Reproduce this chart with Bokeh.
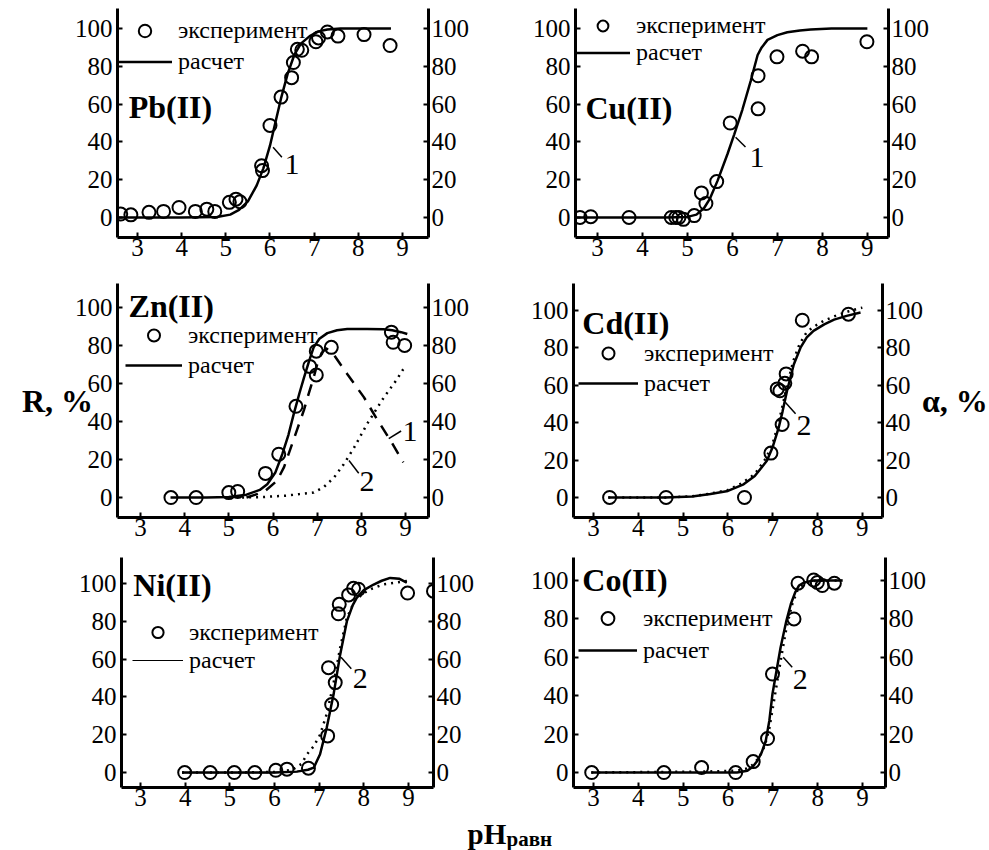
from bokeh.plotting import figure
from bokeh.models import LinearAxis, FixedTicker, Range1d, Legend, LegendItem
from bokeh.layouts import column, row
from bokeh.embed import file_html
from bokeh.resources import INLINE
from bokeh.core.properties import value

SERIF = "Liberation Serif"
SERIF_CSS = '"Liberation Serif", "Times New Roman", serif'

x_ticks = [3, 4, 5, 6, 7, 8, 9]
y_ticks = [0, 20, 40, 60, 80, 100]
legend_exp = "эксперимент"
legend_calc = "расчет"

# ---------------- Pb(II) ----------------
pb_exp_x = [2.62, 2.85, 3.26, 3.59, 3.94, 4.31, 4.57, 4.75, 5.08, 5.23, 5.32, 5.81, 5.83, 6.0, 6.25,
            6.49, 6.53, 6.62, 6.72, 7.04, 7.1, 7.3, 7.54, 8.13, 8.72]
pb_exp_y = [1.8, 1.4, 2.7, 3.2, 5.3, 3.2, 4.4, 3.2, 8.0, 9.7, 8.3, 27.4, 24.8, 48.7, 63.7,
            74.0, 82.0, 89.0, 88.5, 93.0, 95.0, 98.2, 96.0, 96.8, 91.0]
pb_calc_x = [2.55, 4.0, 4.8, 5.1, 5.3, 5.5, 5.7, 5.85, 6.0, 6.1, 6.25, 6.4, 6.55, 6.7, 6.9, 7.1, 7.3, 7.6, 8.0, 8.74]
pb_calc_y = [0, 0, 0.3, 1.5, 4, 8.5, 17, 26, 38, 48, 63, 76, 86, 92, 96, 98.5, 99.5, 100, 100, 100]

# ---------------- Cu(II) ----------------
cu_exp_x = [2.61, 2.85, 3.70, 4.64, 4.74, 4.81, 4.91, 5.15, 5.31, 5.41, 5.65, 5.95, 6.57, 6.57, 6.99, 7.56, 7.76, 8.99]
cu_exp_y = [0, 0.4, 0, 0, 0, 0, -1, 1, 13, 7.4, 19, 50, 57.5, 75, 85, 88, 85, 93]
cu_calc_x = [2.51, 4.5, 5.0, 5.2, 5.37, 5.5, 5.67, 5.89, 6.04, 6.22, 6.41, 6.56, 6.65, 6.78, 7.0, 7.22, 7.5, 7.74, 8.2, 9.0]
cu_calc_y = [0, 0, 0.3, 1.5, 5, 10, 19.5, 33.6, 44, 57, 72.6, 86, 90, 94, 96.5, 98, 99, 99.5, 100, 100]

# ---------------- Zn(II) ----------------
zn_exp_x = [3.69, 4.26, 5.0, 5.2, 5.83, 6.13, 6.52, 6.83, 6.98, 6.98, 7.32, 8.68, 8.72, 8.98]
zn_exp_y = [0, 0, 2.6, 3.2, 12.7, 22.8, 48, 69, 64.5, 77, 79, 87, 81.7, 80]
zn_calc_x = [3.68, 4.5, 5.0, 5.4, 5.7, 5.87, 6.05, 6.21, 6.35, 6.47, 6.6, 6.7, 6.82, 6.92, 7.05, 7.23,
             7.45, 7.68, 8.13, 8.5, 8.7, 8.9, 9.04]
zn_calc_y = [0, 0, 0.3, 1.5, 4, 7, 13, 22.8, 33, 44, 55, 63, 72, 79, 83.5, 86.5,
             88, 88.7, 88.7, 88.5, 88, 87, 86]
zn_c1_x = [5.4, 5.8, 6.09, 6.25, 6.4, 6.55, 6.7, 6.8, 6.9, 7.0, 7.1, 7.2, 7.35, 7.68, 8.06, 8.36, 8.66, 8.95]
zn_c1_y = [0, 3, 8.8, 16, 26, 36, 46, 54, 61.5, 70, 76, 78.5, 76, 65, 52.7, 41, 30, 18.5]
zn_c2_x = [5.3, 5.8, 6.3, 6.6, 6.92, 7.15, 7.38, 7.6, 7.83, 8.13, 8.51, 8.8, 9.0]
zn_c2_y = [0, 0.3, 1, 1.8, 2.6, 5.5, 10.5, 17.5, 26, 38.7, 52.7, 62, 69.4]

# ---------------- Cd(II) ----------------
cd_exp_x = [3.36, 4.62, 6.37, 6.96, 7.21, 7.1, 7.16, 7.27, 7.3, 7.66, 8.69]
cd_exp_y = [0, 0, 0, 23.7, 39, 58, 57, 61, 66, 94.7, 97.9]
cd_calc_x = [3.33, 4.6, 5.2, 5.61, 6.0, 6.35, 6.6, 6.87, 7.0, 7.13, 7.22, 7.32, 7.47, 7.62, 7.76, 7.91,
             8.15, 8.37, 8.65, 8.96]
cd_calc_y = [0, 0, 0.5, 1.8, 3.5, 7, 11.5, 19.6, 27, 37, 46, 57, 71, 80, 85.5, 89,
             92.5, 95, 97, 98.8]
cd_c2_x = [3.33, 4.6, 5.2, 5.6, 6.0, 6.3, 6.6, 6.85, 7.0, 7.12, 7.22, 7.32, 7.46, 7.6, 7.75, 7.9,
           8.15, 8.4, 8.7, 9.0]
cd_c2_y = [0, 0, 0.6, 2, 4, 7.5, 12.5, 21, 29, 39, 49, 60, 73, 82, 88, 91,
           94.5, 97, 99.5, 101.4]

# ---------------- Ni(II) ----------------
ni_exp_x = [3.99, 4.56, 5.1, 5.56, 6.03, 6.28, 6.76, 7.19, 7.28, 7.21, 7.36, 7.43, 7.45, 7.66, 7.77, 7.88, 8.98, 9.56]
ni_exp_y = [0, 0, 0, 0, 1.2, 1.8, 2.3, 19.4, 36, 55.5, 47.6, 84, 89, 94, 97.5, 97, 95, 96]
ni_calc_x = [3.93, 5.0, 6.0, 6.5, 6.75, 6.88, 7.02, 7.17, 7.32, 7.47, 7.62, 7.75, 7.84, 8.0, 8.22, 8.4,
             8.59, 8.8, 8.96]
ni_calc_y = [0, 0, 0, 0.5, 1.5, 2.6, 9.7, 23.8, 41, 62.4, 80, 88.5, 92.4, 96.5, 99.5, 101.5,
             103, 102.5, 100.5]
ni_c2_x = [3.93, 5.0, 6.0, 6.4, 6.6, 6.73, 6.88, 7.02, 7.17, 7.32, 7.47, 7.62, 7.8, 8.0, 8.2, 8.44, 8.7, 9.0]
ni_c2_y = [0, 0, 0.3, 1.5, 4.5, 9.7, 14, 20, 31, 47, 66, 82, 91, 95, 97.5, 99.6, 100.5, 101.5]

# ---------------- Co(II) ----------------
co_exp_x = [2.96, 4.57, 5.41, 6.17, 6.56, 6.88, 6.99, 7.47, 7.56, 7.91, 7.99, 8.1, 8.37]
co_exp_y = [0, 0, 2.6, 0, 5.7, 17.7, 51.3, 80, 98.6, 100.3, 99, 97.4, 98.6]
co_calc_x = [2.95, 4.5, 5.5, 6.2, 6.43, 6.55, 6.65, 6.75, 6.84, 6.92, 6.99, 7.08, 7.17, 7.3, 7.4, 7.5,
             7.58, 7.7, 7.91, 8.2, 8.55]
co_calc_y = [0, 0, 0, 0, 0.9, 3, 6, 10.5, 16.5, 27, 40.9, 53, 65, 79, 87.8, 94,
             97.4, 99, 100, 100, 100]
co_c2_x = [2.95, 4.5, 5.5, 6.2, 6.4, 6.55, 6.7, 6.82, 6.92, 7.0, 7.1, 7.2, 7.3, 7.42, 7.55, 7.7, 7.9, 8.2, 8.55]
co_c2_y = [0, 0.3, 0.5, 1, 2, 4, 8, 14, 23, 34, 48, 62, 75, 87, 95, 98.5, 99.8, 100, 100]

# panel titles (text, x, y)
titles = {
    "Pb": ("Pb(II)", 2.80, 58.7),
    "Cu": ("Cu(II)", 2.73, 58.0),
    "Zn": ("Zn(II)", 2.73, 101.0),
    "Cd": ("Cd(II)", 2.75, 93.4),
    "Ni": ("Ni(II)", 2.84, 99.0),
    "Co": ("Co(II)", 2.75, 100.5),
}
# curve number notes: (text, x, y, leader x0, y0, x1, y1)
notes = {
    "Pb": [("1", 6.33, 28.0, 6.07, 37.2, 6.27, 31.9)],
    "Cu": [("1", 6.38, 31.5, 6.07, 42.5, 6.29, 37.3)],
    "Zn": [("1", 8.93, 34.7, 8.62, 31.0, 8.9, 35.0), ("2", 7.96, 8.4, 7.72, 19.5, 7.94, 12.8)],
    "Cd": [("2", 7.53, 38.7, 7.28, 50.9, 7.51, 44.7)],
    "Ni": [("2", 7.75, 50.0, 7.49, 61.0, 7.72, 54.9)],
    "Co": [("2", 7.44, 48.7, 7.23, 60.0, 7.43, 54.8)],
}
y_label_left = "R, %"
y_label_right = "α, %"
x_label_main = "pH"
x_label_sub = "равн"


def make_panel(key, exp_x, exp_y, calc_x, calc_y, xr, yr, geom, leg, c1=None, c2=None,
               thin_legend=False):
    bl, fw, br, bt, fh, bb = geom
    p = figure(output_backend="svg", toolbar_location=None,
               frame_width=fw, frame_height=fh,
               min_border_left=bl, min_border_right=br, min_border_top=bt, min_border_bottom=bb,
               x_range=Range1d(*xr), y_range=Range1d(*yr),
               background_fill_color="white", border_fill_color="white")
    p.outline_line_color = None
    p.grid.visible = False
    p.xaxis.ticker = FixedTicker(ticks=x_ticks)
    p.yaxis.ticker = FixedTicker(ticks=y_ticks)
    rax = LinearAxis(ticker=FixedTicker(ticks=y_ticks))
    p.add_layout(rax, "right")
    for ax in list(p.xaxis) + list(p.yaxis) + [rax]:
        ax.axis_line_width = 3
        ax.axis_line_color = "black"
        ax.major_tick_in = 5
        ax.major_tick_out = 0
        ax.major_tick_line_width = 2
        ax.minor_tick_line_color = None
        ax.major_label_text_font = SERIF_CSS
        ax.major_label_text_font_size = "25px"
        ax.major_label_text_color = "black"
    p.xaxis.major_label_standoff = 1
    p.yaxis[0].major_label_standoff = 5
    rax.major_label_standoff = 3

    if c2 is not None:
        p.line(c2[0], c2[1], line_color="black", line_width=2.5, line_dash="2 5")
    if c1 is not None:
        p.line(c1[0], c1[1], line_color="black", line_width=2.5, line_dash="12 9")
    calc_leg = None
    if thin_legend:
        calc_leg = p.line(calc_x, calc_y, line_color="black", line_width=1.2)
    calc = p.line(calc_x, calc_y, line_color="black", line_width=2.5)
    if calc_leg is None:
        calc_leg = calc
    exp = p.scatter(exp_x, exp_y, marker="circle", size=13, fill_color=None,
                    line_color="black", line_width=2)

    t, tx, ty = titles[key]
    p.text(x=[tx], y=[ty], text=[t], text_font=value(SERIF), text_font_style="bold",
           text_font_size="32px", text_baseline="middle", text_align="left", text_color="black")
    for (nt, nx, ny, lx0, ly0, lx1, ly1) in notes[key]:
        p.segment(x0=[lx0], y0=[ly0], x1=[lx1], y1=[ly1], line_color="black", line_width=1.5)
        p.text(x=[nx], y=[ny], text=[nt], text_font=value(SERIF), text_font_size="30px",
               text_baseline="middle", text_align="left", text_color="black")

    box_x, row1c, pitch, gw = leg
    top = row1c - pitch / 2.0
    vy = fh - top - 2 * pitch
    legend = Legend(items=[LegendItem(label=legend_exp, renderers=[exp]),
                           LegendItem(label=legend_calc, renderers=[calc_leg])],
                    location=(box_x, vy), glyph_width=gw, glyph_height=pitch,
                    label_height=pitch, spacing=0, padding=0, margin=0, label_standoff=6,
                    label_text_font=SERIF_CSS, label_text_font_size="24px",
                    label_text_color="black",
                    background_fill_alpha=0, border_line_alpha=0)
    p.add_layout(legend, "center")
    return p, rax


# geometry: (border_left, frame_w, border_right, border_top, frame_h, border_bottom)
p_pb, _ = make_panel("Pb", pb_exp_x, pb_exp_y, pb_calc_x, pb_calc_y, (2.547, 9.59), (-10.6, 110.6),
                     (117, 311, 72, 8, 229, 40), (0, 22, 31, 55))
p_cu, _ = make_panel("Cu", cu_exp_x, cu_exp_y, cu_calc_x, cu_calc_y, (2.51, 9.47), (-10.6, 110.6),
                     (75, 313, 101, 8, 229, 40), (0, 17, 27, 55))
p_zn, _ = make_panel("Zn", zn_exp_x, zn_exp_y, zn_calc_x, zn_calc_y, (2.48, 9.52), (-10.5, 112.6),
                     (117, 311, 72, 6, 234, 36), (8, 52, 30, 57),
                     c1=(zn_c1_x, zn_c1_y), c2=(zn_c2_x, zn_c2_y))
p_cd, cd_rax = make_panel("Cd", cd_exp_x, cd_exp_y, cd_calc_x, cd_calc_y, (2.554, 9.45), (-10.7, 114.3),
                          (73, 309, 107, 6, 234, 36), (5, 70, 30, 60), c2=(cd_c2_x, cd_c2_y))
p_ni, _ = make_panel("Ni", ni_exp_x, ni_exp_y, ni_calc_x, ni_calc_y, (2.575, 9.56), (-7.9, 113.8),
                     (121, 312, 67, 4, 230, 29), (11, 75, 28, 51), c2=(ni_c2_x, ni_c2_y),
                     thin_legend=True)
p_co, _ = make_panel("Co", co_exp_x, co_exp_y, co_calc_x, co_calc_y, (2.554, 9.51), (-7.8, 112.0),
                     (73, 312, 104, 4, 230, 29), (5, 61, 32, 59), c2=(co_c2_x, co_c2_y))

# axis titles R, % (left) and alpha, % (right)
lax = p_zn.yaxis[0]
lax.axis_label = y_label_left
lax.axis_label_orientation = "horizontal"
lax.axis_label_standoff = -21
lax.axis_label_text_font = SERIF_CSS
lax.axis_label_text_font_style = "bold"
lax.axis_label_text_font_size = "32px"
lax.axis_label_text_color = "black"

cd_rax.axis_label = y_label_right
cd_rax.axis_label_orientation = "horizontal"
cd_rax.axis_label_standoff = -4
cd_rax.axis_label_text_font = SERIF_CSS
cd_rax.axis_label_text_font_style = "bold"
cd_rax.axis_label_text_font_size = "32px"
cd_rax.axis_label_text_color = "black"

# bottom label strip (no axes, text anchored to its top edge)
lab = figure(output_backend="svg", toolbar_location=None, width=989, height=34, title=None,
             x_axis_location=None, y_axis_location=None,
             x_range=Range1d(0, 989), y_range=Range1d(0, 34),
             min_border=0, background_fill_color="white", border_fill_color="white")
lab.grid.visible = False
lab.outline_line_color = None
lab.text(x=[467], y=[34], text=[x_label_main], text_font=value(SERIF), text_font_style="bold",
         text_font_size="29px", text_baseline="top", y_offset=1, text_color="black")
lab.text(x=[506], y=[34], text=[x_label_sub], text_font=value(SERIF), text_font_style="bold",
         text_font_size="21px", text_baseline="top", y_offset=10, text_color="black")

layout = column(row(p_pb, p_cu), row(p_zn, p_cd), row(p_ni, p_co), lab)
open("out.html", "w").write(file_html(layout, INLINE))
